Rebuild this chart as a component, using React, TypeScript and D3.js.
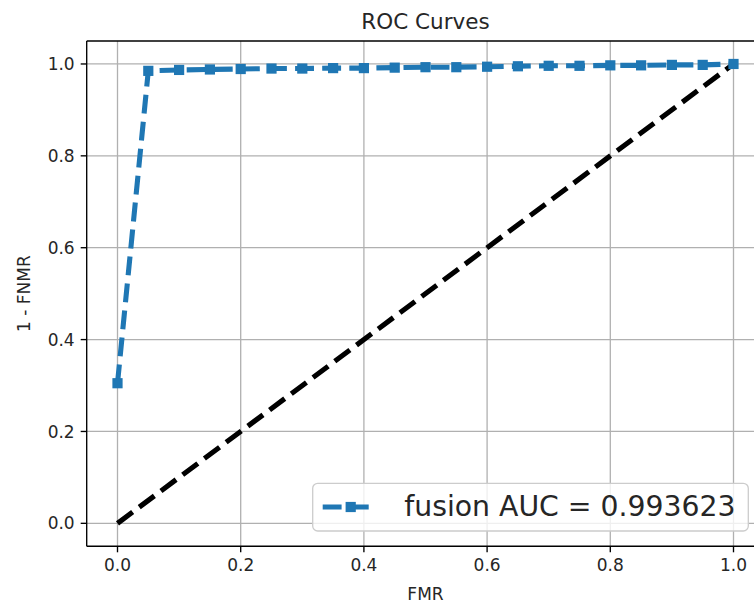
import React from "react";
import * as d3 from "d3";

const fmr = [0, 0.05, 0.1, 0.15, 0.2, 0.25, 0.3, 0.35, 0.4, 0.45, 0.5, 0.55, 0.6, 0.65, 0.7, 0.75, 0.8, 0.85, 0.9, 0.95, 1.0];
const tpr = [0.305, 0.985, 0.987, 0.988, 0.989, 0.99, 0.99, 0.991, 0.991, 0.992, 0.993, 0.993, 0.994, 0.995, 0.996, 0.996, 0.997, 0.997, 0.998, 0.998, 1.0];
const diagX = [0, 1];
const diagY = [0, 1];
const xTicks = [0, 0.2, 0.4, 0.6, 0.8, 1.0];
const yTicks = [0, 0.2, 0.4, 0.6, 0.8, 1.0];
const legendLabel = "fusion AUC = 0.993623";
const titleText = "ROC Curves";
const xLabel = "FMR";
const yLabel = "1 - FNMR";

const W = 754;
const H = 607;
const L = 86.7, R = 764.3, T = 41, B = 546.3;
const FONT = "DejaVu Sans, sans-serif";
const BLUE = "#1f77b4";

export default function App() {
  const x = d3.scaleLinear().domain([-0.05, 1.05]).range([L, R]);
  const y = d3.scaleLinear().domain([-0.05, 1.05]).range([B, T]);
  const fmt = d3.format(".1f");
  const line = d3.line<[number, number]>().x((d) => x(d[0])).y((d) => y(d[1]));
  const rocPts: [number, number][] = fmr.map((v, i) => [v, tpr[i]]);
  const diagPts: [number, number][] = diagX.map((v, i) => [v, diagY[i]]);
  const ms = 10.2;

  return (
    <svg width={W} height={H} style={{ position: "absolute", left: 0, top: 0, background: "#fff" }} fontFamily={FONT}>
      <defs>
        <clipPath id="plotclip">
          <rect x={L} y={T} width={R - L} height={B - T} />
        </clipPath>
      </defs>
      <rect x={0} y={0} width={W} height={H} fill="#fff" />
      {/* grid */}
      <g stroke="#b0b0b0" strokeWidth={1.3}>
        {xTicks.map((t) => (
          <line key={"gx" + t} x1={x(t)} x2={x(t)} y1={T} y2={B} />
        ))}
        {yTicks.map((t) => (
          <line key={"gy" + t} x1={L} x2={R} y1={y(t)} y2={y(t)} />
        ))}
      </g>
      <g clipPath="url(#plotclip)">
        <path d={line(diagPts) || ""} fill="none" stroke="#000" strokeWidth={5.1} strokeDasharray="18.9,8.2" strokeLinecap="butt" />
        <path d={line(rocPts) || ""} fill="none" stroke={BLUE} strokeWidth={5.1} strokeDasharray="18.9,8.2" strokeLinecap="butt" strokeLinejoin="round" />
        {rocPts.map((p, i) => (
          <rect key={"m" + i} x={x(p[0]) - ms / 2} y={y(p[1]) - ms / 2} width={ms} height={ms} fill={BLUE} />
        ))}
      </g>
      {/* spines */}
      <g stroke="#000" strokeWidth={1.36} fill="none">
        <line x1={L} x2={R} y1={B} y2={B} />
        <line x1={L} x2={R} y1={T} y2={T} />
        <line x1={L} x2={L} y1={T} y2={B} />
        <line x1={R} x2={R} y1={T} y2={B} />
      </g>
      {/* x ticks */}
      {xTicks.map((t) => (
        <g key={"xt" + t}>
          <line x1={x(t)} x2={x(t)} y1={B} y2={B + 6} stroke="#000" strokeWidth={1.36} />
          <text x={x(t)} y={B + 12} dy="0.76em" textAnchor="middle" fontSize={17} fill="#262626">
            {fmt(t)}
          </text>
        </g>
      ))}
      {yTicks.map((t) => (
        <g key={"yt" + t}>
          <line x1={L} x2={L - 6} y1={y(t)} y2={y(t)} stroke="#000" strokeWidth={1.36} />
          <text x={L - 12} y={y(t)} dy="0.36em" textAnchor="end" fontSize={17} fill="#262626">
            {fmt(t)}
          </text>
        </g>
      ))}
      <text x={(L + R) / 2} y={29} textAnchor="middle" fontSize={21.5} fill="#262626">
        {titleText}
      </text>
      <text x={(L + R) / 2} y={600} textAnchor="middle" fontSize={17} fill="#262626">
        {xLabel}
      </text>
      <text transform={`translate(30,${(T + B) / 2}) rotate(-90)`} textAnchor="middle" fontSize={17} fill="#262626">
        {yLabel}
      </text>
      {/* legend */}
      <g>
        <rect x={312.7} y={483.3} width={435.6} height={47.7} rx={5} ry={5} fill="#fff" fillOpacity={0.8} stroke="#cccccc" strokeWidth={1.3} />
        <line x1={322.7} x2={374} y1={507} y2={507} stroke={BLUE} strokeWidth={5.1} strokeDasharray="18.9,8.2" />
        <rect x={350.7 - ms / 2} y={507 - ms / 2} width={ms} height={ms} fill={BLUE} />
        <text x={404.3} y={516} fontSize={28.3} fill="#262626">
          {legendLabel}
        </text>
      </g>
    </svg>
  );
}
